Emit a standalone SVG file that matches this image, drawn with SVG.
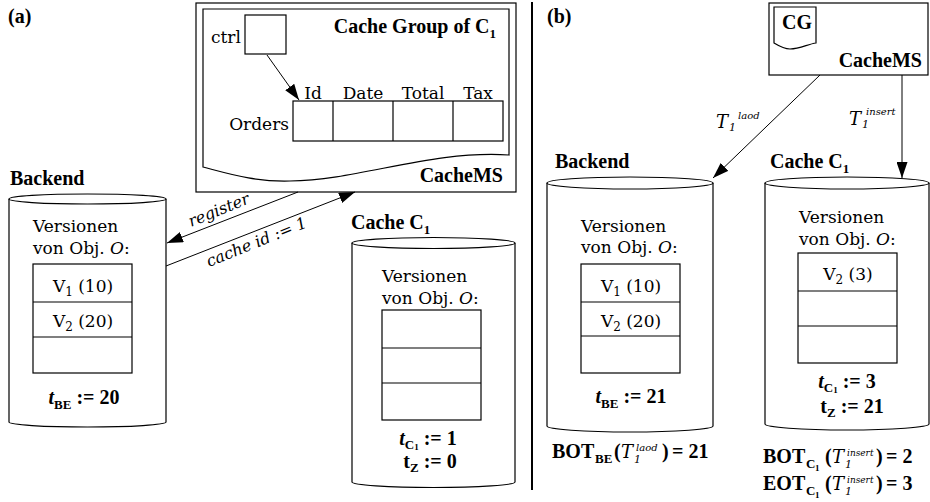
<svg xmlns="http://www.w3.org/2000/svg" width="930" height="502" viewBox="0 0 930 502">
<style>
text{fill:#000}
.b{font-family:"Liberation Serif","Times New Roman",serif;font-weight:bold;font-size:20px}
.r{font-family:"DejaVu Serif","Liberation Serif",serif;font-size:17px}
.it{font-family:"DejaVu Serif","Liberation Serif",serif;font-style:italic;font-weight:normal}
.bi{font-style:italic}
.shape{fill:#fff;stroke:#000;stroke-width:1.2}
.line{fill:none;stroke:#000;stroke-width:1.2}
.conn{fill:none;stroke:#000;stroke-width:1}
</style>
<defs>
<marker id="ah" markerUnits="userSpaceOnUse" markerWidth="16" markerHeight="11" viewBox="0 0 16 11" refX="16" refY="5.5" orient="auto">
<path d="M0,0 L16,5.5 L0,11 Z" fill="#000"/>
</marker>
</defs>
<rect x="0" y="0" width="930" height="502" fill="#fff"/>

<!-- panel labels and divider -->
<text class="b" x="8" y="23">(a)</text>
<text class="b" x="547" y="23">(b)</text>
<line x1="532" y1="2" x2="532" y2="490" stroke="#000" stroke-width="2"/>

<!-- (a) cache management system with cache group -->
<g id="cachems-a">
<rect class="shape" x="196" y="3" width="320" height="189"/>
<path class="shape" d="M203,9 L509,9 L509,155 C430,150 360,180 290,181 C255,182 230,174 203,167 Z"/>
<text class="b" x="496" y="33" text-anchor="end">Cache Group of C<tspan font-size="13" dy="5">1</tspan></text>
<text class="r" x="211" y="43">ctrl</text>
<rect class="line" x="245" y="15" width="41" height="39"/>
<text class="r" x="289" y="130" text-anchor="end">Orders</text>
<rect class="line" x="293" y="101" width="210" height="40"/>
<line class="line" x1="333" y1="101" x2="333" y2="141"/>
<line class="line" x1="393" y1="101" x2="393" y2="141"/>
<line class="line" x1="453" y1="101" x2="453" y2="141"/>
<text class="r" x="313" y="99" text-anchor="middle">Id</text>
<text class="r" x="363" y="99" text-anchor="middle">Date</text>
<text class="r" x="423" y="99" text-anchor="middle">Total</text>
<text class="r" x="478" y="99" text-anchor="middle">Tax</text>
<line class="conn" x1="267" y1="55" x2="299" y2="100" marker-end="url(#ah)"/>
<text class="b" x="503" y="182" text-anchor="end">CacheMS</text>
</g>

<!-- (a) backend -->
<g id="backend-a">
<text class="b" x="10" y="185">Backend</text>
<path class="shape" d="M9,199 L9,422 A78.5,5 0 0 0 166,422 L166,199"/>
<ellipse class="shape" cx="87.5" cy="199" rx="78.5" ry="5"/>
<text class="r" x="33" y="232">Versionen</text>
<text class="r" x="33" y="254">von Obj. <tspan font-style="italic">O</tspan>:</text>
<rect class="line" x="33" y="264" width="99" height="109"/>
<line class="line" x1="33" y1="302" x2="132" y2="302"/>
<line class="line" x1="33" y1="337" x2="132" y2="337"/>
<text class="r" x="83" y="292" text-anchor="middle">V<tspan font-size="12" dy="4">1</tspan><tspan dy="-4"> (10)</tspan></text>
<text class="r" x="83" y="327" text-anchor="middle">V<tspan font-size="12" dy="4">2</tspan><tspan dy="-4"> (20)</tspan></text>
<text class="b" x="84" y="404" text-anchor="middle"><tspan class="bi">t</tspan><tspan font-size="13" dy="5">BE</tspan><tspan dy="-5"> := 20</tspan></text>
</g>

<!-- (a) cache C1 -->
<g id="cache-a">
<text class="b" x="351" y="229">Cache C<tspan font-size="13" dy="5">1</tspan></text>
<path class="shape" d="M352,243 L352,482 A81.5,5.5 0 0 0 515,482 L515,243"/>
<ellipse class="shape" cx="433.5" cy="243" rx="81.5" ry="5.5"/>
<text class="r" x="382" y="282">Versionen</text>
<text class="r" x="382" y="304">von Obj. <tspan font-style="italic">O</tspan>:</text>
<rect class="line" x="382" y="310" width="99" height="110"/>
<line class="line" x1="382" y1="348" x2="481" y2="348"/>
<line class="line" x1="382" y1="383" x2="481" y2="383"/>
<text class="b" x="428" y="445" text-anchor="middle"><tspan class="bi">t</tspan><tspan font-size="13" dy="4">C</tspan><tspan font-size="9" dy="1">1</tspan><tspan dy="-5"> := 1</tspan></text>
<text class="b" x="430" y="468" text-anchor="middle">t<tspan font-size="13" dy="4">Z</tspan><tspan dy="-4"> := 0</tspan></text>
</g>

<!-- (b) cache management system -->
<g id="cachems-b">
<rect class="shape" x="769" y="3" width="159" height="72"/>
<path class="shape" d="M774,7 L816,7 L816,43 C808,44 800,49 790,49 C784,49 779,46 774,43 Z"/>
<text class="b" x="782" y="29">CG</text>
<text class="b" x="922" y="67" text-anchor="end">CacheMS</text>
</g>

<!-- (b) backend -->
<g id="backend-b">
<text class="b" x="555" y="168">Backend</text>
<path class="shape" d="M547,183 L547,426 A83,6 0 0 0 713,426 L713,183"/>
<ellipse class="shape" cx="630" cy="183" rx="83" ry="6"/>
<text class="r" x="581" y="232">Versionen</text>
<text class="r" x="581" y="253">von Obj. <tspan font-style="italic">O</tspan>:</text>
<rect class="line" x="581" y="264" width="99" height="109"/>
<line class="line" x1="581" y1="302" x2="680" y2="302"/>
<line class="line" x1="581" y1="336" x2="680" y2="336"/>
<text class="r" x="631" y="292" text-anchor="middle">V<tspan font-size="12" dy="4">1</tspan><tspan dy="-4"> (10)</tspan></text>
<text class="r" x="631" y="327" text-anchor="middle">V<tspan font-size="12" dy="4">2</tspan><tspan dy="-4"> (20)</tspan></text>
<text class="b" x="631" y="403" text-anchor="middle"><tspan class="bi">t</tspan><tspan font-size="13" dy="5">BE</tspan><tspan dy="-5"> := 21</tspan></text>
<text class="b"><tspan x="552" y="458">BOT</tspan><tspan x="595" y="463" font-size="13">BE</tspan><tspan x="614" y="458">(</tspan><tspan class="it" x="621" y="458" font-size="18">T</tspan><tspan class="it" x="634" y="463" font-size="11">1</tspan><tspan class="it" x="636" y="451" font-size="10">laod</tspan><tspan x="662" y="458">)</tspan><tspan x="672" y="458">= 21</tspan></text>
</g>

<!-- (b) cache C1 -->
<g id="cache-b">
<text class="b" x="770" y="168">Cache C<tspan font-size="13" dy="5">1</tspan></text>
<path class="shape" d="M765,183 L765,424 A82,6 0 0 0 929,424 L929,183"/>
<ellipse class="shape" cx="847" cy="183" rx="82" ry="6"/>
<text class="r" x="799" y="223">Versionen</text>
<text class="r" x="799" y="245">von Obj. <tspan font-style="italic">O</tspan>:</text>
<rect class="line" x="798" y="253" width="99" height="110"/>
<line class="line" x1="798" y1="291" x2="897" y2="291"/>
<line class="line" x1="798" y1="326" x2="897" y2="326"/>
<text class="r" x="848" y="280" text-anchor="middle">V<tspan font-size="12" dy="4">2</tspan><tspan dy="-4"> (3)</tspan></text>
<text class="b" x="847" y="388" text-anchor="middle"><tspan class="bi">t</tspan><tspan font-size="13" dy="4">C</tspan><tspan font-size="9" dy="1">1</tspan><tspan dy="-5"> := 3</tspan></text>
<text class="b" x="852" y="413" text-anchor="middle">t<tspan font-size="13" dy="4">Z</tspan><tspan dy="-4"> := 21</tspan></text>
<text class="b"><tspan x="763" y="463">BOT</tspan><tspan x="806" y="468" font-size="13">C</tspan><tspan x="815" y="471" font-size="9">1</tspan><tspan x="825" y="463">(</tspan><tspan class="it" x="832" y="463" font-size="18">T</tspan><tspan class="it" x="845" y="468" font-size="11">1</tspan><tspan class="it" x="847" y="456" font-size="9">insert</tspan><tspan x="876" y="463">)</tspan><tspan x="886" y="463">= 2</tspan></text>
<text class="b"><tspan x="763" y="490">EOT</tspan><tspan x="806" y="495" font-size="13">C</tspan><tspan x="815" y="498" font-size="9">1</tspan><tspan x="825" y="490">(</tspan><tspan class="it" x="832" y="490" font-size="18">T</tspan><tspan class="it" x="845" y="495" font-size="11">1</tspan><tspan class="it" x="847" y="483" font-size="9">insert</tspan><tspan x="876" y="490">)</tspan><tspan x="886" y="490">= 3</tspan></text>
</g>

<!-- connectors -->
<g id="connectors">
<line class="conn" x1="298" y1="192" x2="167" y2="243" marker-end="url(#ah)"/>
<line class="conn" x1="166" y1="266" x2="355" y2="192" marker-end="url(#ah)"/>
<text class="it" font-size="16" transform="translate(191,227) rotate(-22)">register</text>
<text class="it" font-size="16" transform="translate(209,267) rotate(-22)">cache id := 1</text>
<line class="conn" x1="820" y1="75" x2="713" y2="178" marker-end="url(#ah)"/>
<line class="conn" x1="902" y1="75" x2="902" y2="178" marker-end="url(#ah)"/>
<text class="it"><tspan x="716" y="128" font-size="18">T</tspan><tspan x="729" y="131" font-size="11">1</tspan><tspan x="738" y="119" font-size="10">laod</tspan></text>
<text class="it"><tspan x="849" y="125" font-size="18">T</tspan><tspan x="862" y="128" font-size="11">1</tspan><tspan x="866" y="115" font-size="10">insert</tspan></text>
</g>
</svg>
